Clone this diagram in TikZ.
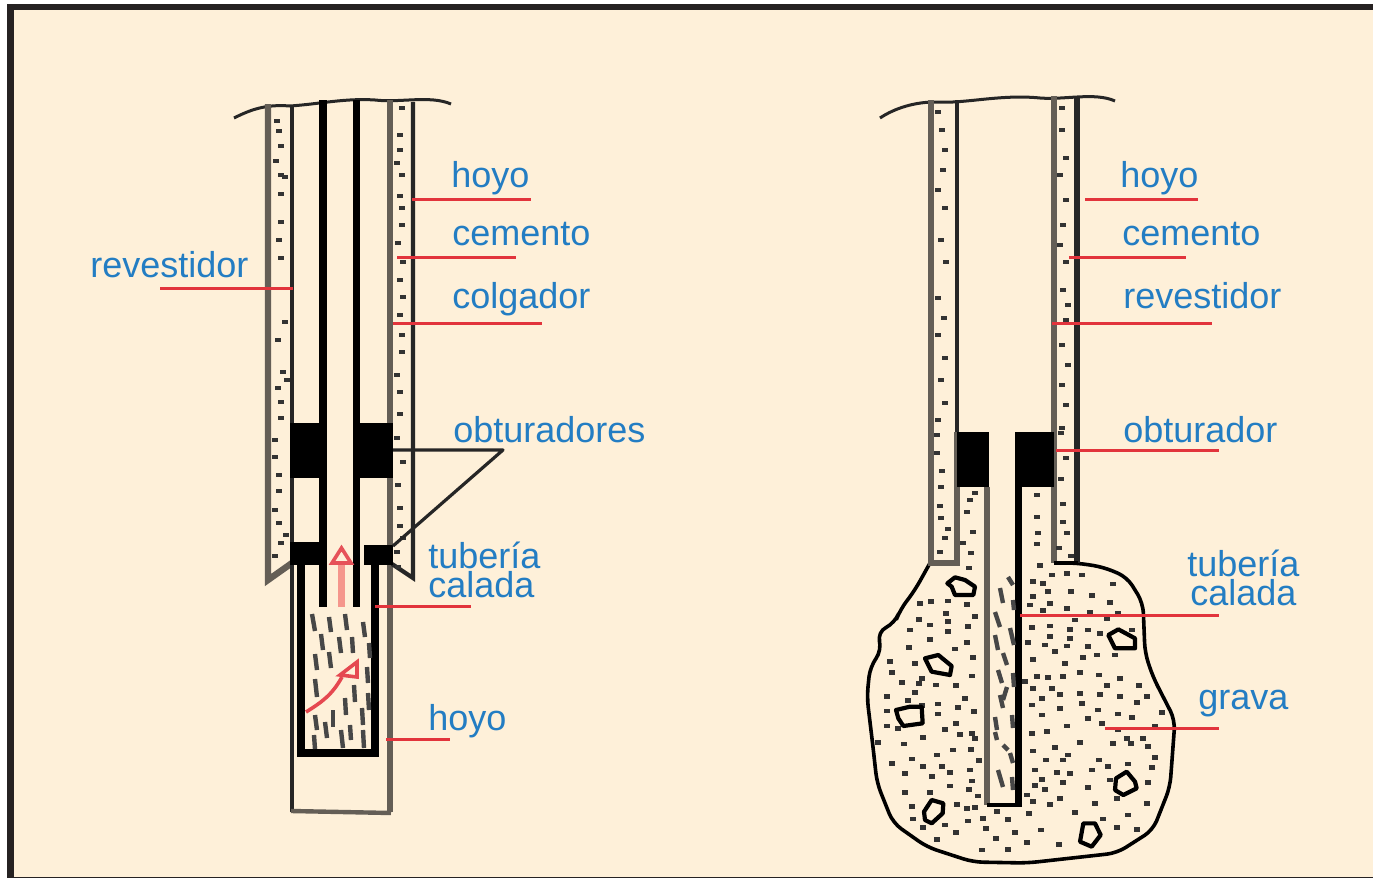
\documentclass[tikz,border=0pt]{standalone}
\usepackage{fontspec}
\setmainfont{Liberation Sans}
\definecolor{colfondo}{RGB}{254,240,217}
\definecolor{colmarco}{RGB}{38,34,34}
\definecolor{colrotulo}{RGB}{35,125,195}
\definecolor{colguia}{RGB}{226,52,60}
\definecolor{colpared}{RGB}{100,94,86}
\definecolor{colflecha}{RGB}{245,150,140}
\tikzset{
  rotulo/.style={anchor=base west,inner sep=0pt,text=colrotulo,font=\fontsize{18}{14.5}\selectfont},
  guia/.style={colguia,line width=1.5pt},
  pared/.style={colpared,line width=3.2pt},
  tubo/.style={black,line width=2.6pt},
  linea/.style={black!85,line width=2.1pt},
  piedra/.style={black,line width=2.1pt,line join=round},
}
% puntos del cemento y de la grava
\newcommand{\puntos}[1]{\foreach \px/\py in {#1} {\fill[black!80] (\px-3,\py-2.4) rectangle (\px+3,\py+2.4);}}
% los mismos puntos en las coordenadas del detalle
\newcommand{\puntosd}[1]{\foreach \px/\py in {#1} {\fill[black!80] (\px-9,\py-7) rectangle (\px+9,\py+7);}}
% rayas de la formacion
\newcommand{\rayas}[1]{\foreach \ax/\ay/\bx/\by in {#1} {\draw[black!72,line width=2.2pt] (\ax,\ay) -- (\bx,\by);}}
\begin{document}
\begin{tikzpicture}[x=0.5pt,y=-0.5pt]
\useasboundingbox (0,0) rectangle (1373,878);
\fill[white] (0,0) rectangle (1373,878);
\fill[colfondo] (7,4) rectangle (1373,877);
% marco
\fill[colmarco] (7,4) rectangle (1373,10);
\fill[colmarco] (7,4) rectangle (14,878);
\fill[colmarco] (7,877) rectangle (1373,878);

% pozo izquierdo: terreno
\draw[linea,line width=1.5pt] (234,118) .. controls (250,110) and (265,104) .. (290,106) .. controls (320,104) and (345,98) .. (375,100) .. controls (400,103) and (430,95) .. (451,104);
% hoyo y revestidor
\draw[pared] (268,104) -- (268,580) -- (292,563);
\draw[linea] (292,106) -- (292,812);
\draw[pared] (390,100) -- (390,812);
\draw[linea] (413,102) -- (413,578) -- (392,564);
\draw[pared,line width=2.2pt] (291,811) -- (391,813);
% sarta de tuberia
\draw[tubo,line width=4pt] (323,100) -- (323,607);
\draw[tubo,line width=3.6pt] (356.5,100) -- (356.5,607);
% obturadores
\fill (290,423) rectangle (327,478);
\fill (353,423) rectangle (393,478);
\fill (290,542) rectangle (327,565);
\fill (364,545) rectangle (393,565);
% tuberia calada
\draw[tubo,line width=4pt] (301,565) -- (301,752.5) -- (374.5,752.5) -- (374.5,565);
\rayas{312/614/315/631,329/617/331/632,345/614/347/630,363/622/365/637,321/634/323/650,339/637/341/653,352/637/353/653,369/643/370/658,315/654/317/670,329/652/331/668,367/667/368/683,315/679/317/697,354/685/355/702,368/693/369/710,345/698/346/715,362/708/363/725,315/715/317/730,333/710/333/727,325/722/327/738,350/725/351/740,314/735/315/749,341/730/343/748,363/730/364/748}
% flechas
\draw[colflecha,line width=3.6pt] (341.5,607) -- (341.5,563);
\draw[colguia!85,line width=1.8pt,fill=colfondo] (341.5,548) -- (351,563) -- (332,563) -- cycle;
\draw[colguia!90,line width=1.8pt] (306,712) .. controls (322,702) and (332,695) .. (342,677);
\draw[colguia!90,line width=1.8pt] (357,662) -- (357,677) -- (340,675) -- cycle;
% cemento
\puntos{277/121,279/131,281/146,276/161,281/175,285/177,281/194,281/222,279/240,281/258,285/322,278/340,283/372,287/380,278/388,281/402,281/418,275/440,275/457,279/475,279/491,275/510,279/523,286/535,281/543,275/556,402/108,400/135,400/150,397/163,402/175,400/196,402/208,402/225,398/243,403/262,400/280,403/297,400/315,402/335,402/352,397/375,400/392,400/414,397/438,403/462,398/485,400/508,400/526,403/538,397/552,398/567}
% lineas del triangulo
\draw[linea,line width=1.6pt,line join=round] (393,450) -- (503,450) -- (393,546);
% guias
\draw[guia] (412,199) -- (531,199);
\draw[guia] (397,257) -- (516,257);
\draw[guia] (393,323) -- (542,323);
\draw[guia] (160,288) -- (293,288);
\draw[guia] (375,606) -- (471,606);
\draw[guia] (386,739) -- (450,739);
\node[rotulo] (hoyoa) at (451,187) {hoyo};
\node[rotulo] (cementoa) at (452,245) {cemento};
\node[rotulo] (colgador) at (452,308) {colgador};
\node[rotulo] (revestidora) at (90,277) {revestidor};
\node[rotulo] (obturadores) at (453,442) {obturadores};
\node[rotulo,align=left] (tuberiaa) at (428,597) {tubería\\calada};
\node[rotulo] (hoyob) at (428,730) {hoyo};

% pozo derecho: terreno
\draw[linea,line width=1.5pt] (880,118) .. controls (895,108) and (915,102) .. (935,102) .. controls (965,104) and (1000,94) .. (1040,98) .. controls (1065,100) and (1095,92) .. (1115,101);
% grava
\draw[black,line width=1.8pt,line join=round,rounded corners=5pt,fill=colfondo] (930,563) -- (915,590) -- (900,610) -- (895,623) -- (877,632) -- (882,650) -- (870,667) -- (867,697) -- (873,747) -- (877,783) -- (893,823) -- (927,847) -- (973,862) -- (1027,863) -- (1117,853) -- (1153,830) -- (1170,787) -- (1175,720) -- (1153,677) -- (1145,653) -- (1143,603) -- (1127,577) -- (1103,567) -- (1077,563) -- (1054,563);
% hoyo y revestidor
\draw[pared,line join=miter] (931,100) -- (931,563) -- (957,563) -- (957,432);
\draw[pared] (1054,96) -- (1054,563);
\draw[linea] (957,100) -- (957,432);
\draw[linea,line width=2.6pt] (1077,96) -- (1077,563);
\draw[black,line width=1.8pt] (1054,563) -- (1078,563);
% tuberia calada
\draw[pared,line width=2.6pt] (987,487) -- (987,805);
\draw[black,line width=1.8pt] (987,805) -- (1018,805);
\draw[tubo,line width=3.6pt] (1018.5,487) -- (1018.5,807);
% obturador
\fill (957,432) rectangle (989,487);
\fill (1015,432) rectangle (1054,487);
\rayas{1008/577/1013/585,1000/588/1003/603,1013/600/1014/610,995/612/1000/627,1010/628/1014/645,995/635/998/650,1003/653/1007/665,1013/673/1014/687,998/670/1002/683,1007/687/1003/700,1000/695/1003/708,1012/715/1013/728,995/717/997/730,995/732/997/740,1003/745/1008/750,1010/753/1013/763,998/770/1003/787,1012/777/1013/790}
% cemento y grava
\puntos{937/435,937/453,942/471,941/487,940/506,941/518,948/529,945/538,940/552,975/493,970/500,967/512,973/532,963/543,971/553,969/568,1037/495,1037/517,1038/533,1037/544,1061/433,1066/458,1061/479,1063/504,1063/522,1067/533,1059/548,1071/556,938/112,942/130,945/150,943/170,938/190,945/208,941/240,946/262,938/298,944/318,938/335,945/358,941/380,945/403,938/420,1062/108,1062/130,1066/158,1060/175,1066/200,1063/225,1060/245,1066/262,1063/290,1068/305,1066/320,1062/345,1068/365,1062/385,1066/405,1062/428}
\begin{scope}[shift={(860,420)},x=0.16667pt,y=-0.16667pt]
\puntosd{180/550,212/545,265/543,320/553,258/580,178/598,210/615,265/605,345/590,325/620,150/630,265/635,210/658,320/668,148/682,285/687,340/712,90/725,165/730,95/757,335/768,185/775,125/787,178/790,228/795,288/797,165/817,80/830,315/835,145/842,235/852,185/857,295/862,80/873,235/882,343/875,80/918,288/910,115/925,255/928,335/940,300/943,190/952,133/972,345/955,55/968,280/990,333/988,232/1005,155/1017,358/1022,95/1030,190/1040,245/1040,270/1057,330/1050,135/1060,215/1070,335/1083,270/1098,328/1108,135/1117,210/1118,355/1128,155/1160,290/1153,320/1165,345/1162,160/1197,325/1203,255/1215,190/1222,370/1195,378/1225,288/1238,230/1258,408/1255,365/1290,445/1288,465/1238,500/1268,598/1273,542/1230,410/1175,445/1198,508/1180,570/1153}
\puntosd{540/437,575/465,620/460,665/465,520/485,548/490,565/515,632/515,760/492,695/527,520/530,570/550,510/555,750/548,620/565,550/572,690/578,775/580,740/597,645/600,515/622,570/618,630/628,685/630,720/640,815/630,570/650,630/655,505/668,555/675,620/678,685/680,585/695,712/705,670/713,765/705,520/718,615/730,610/770,660/757,718/765,530/770,565/772,780/775,495/785,740/797,838/797,520/805,575/805,600/823,660/820,720/823,780/830,862/830,545/835,830/848,665/850,515/855,600/865,715/870,775/882,815/892,905/878,545/885,685/895,725/910,620/918,775/930,885/918,515/940,560/935,800/955,850/955,660/968,760/970,812/970,865/980,585/982,520/993,625/1005,558/1020,610/1020,885/1013,718/1020,805/1032,745/1040,875/1042,525/1050,590/1057,630/1060,695/1050,545/1078,750/1080,865/1088,608/1087,525/1097,685/1102,555/1108,770/1135,600/1135,500/1125,705/1150,860/1150,520/1145,645/1178,805/1185,730/1197,770/1222,830/1228}
% piedras
\draw[piedra,fill=colfondo] (262,490) -- (285,472) -- (315,480) -- (345,500) -- (340,525) -- (285,525) -- (275,500) -- cycle;
\draw[piedra,fill=colfondo] (195,715) -- (235,705) -- (275,738) -- (270,765) -- (215,755) -- cycle;
\draw[piedra,fill=colfondo] (108,870) -- (150,860) -- (185,860) -- (188,910) -- (130,918) -- (115,895) -- cycle;
\draw[piedra,fill=colfondo] (192,1175) -- (215,1140) -- (250,1150) -- (248,1180) -- (215,1210) -- (195,1200) -- cycle;
\draw[piedra,fill=colfondo] (745,645) -- (775,628) -- (825,655) -- (825,685) -- (765,685) -- cycle;
\draw[piedra,fill=colfondo] (768,1075) -- (800,1055) -- (825,1085) -- (830,1105) -- (790,1125) -- (765,1110) -- cycle;
\draw[piedra,fill=colfondo] (670,1210) -- (705,1210) -- (722,1245) -- (695,1280) -- (660,1265) -- cycle;
\end{scope}
% guias
\draw[guia] (1085,199) -- (1198,199);
\draw[guia] (1069,257) -- (1186,257);
\draw[guia] (1052,323) -- (1212,323);
\draw[guia] (1056,450) -- (1219,450);
\draw[guia] (1020,615) -- (1219,615);
\draw[guia] (1105,728) -- (1219,728);
\node[rotulo] (hoyoc) at (1120,187) {hoyo};
\node[rotulo] (cementob) at (1122,245) {cemento};
\node[rotulo] (revestidorb) at (1123,308) {revestidor};
\node[rotulo] (obturador) at (1123,442) {obturador};
\node[rotulo,align=center] (tuberiab) at (1187,605) {tubería\\calada};
\node[rotulo] (grava) at (1198,709) {grava};
\end{tikzpicture}
\end{document}
